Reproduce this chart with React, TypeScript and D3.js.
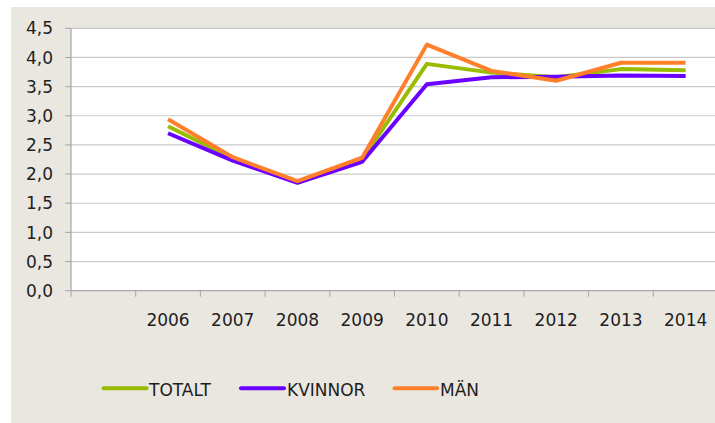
import React from "react";
import * as d3 from "d3";

const categories = ["", "2006", "2007", "2008", "2009", "2010", "2011", "2012", "2013", "2014"];
const years = ["2006", "2007", "2008", "2009", "2010", "2011", "2012", "2013", "2014"];
const totalt = [2.82, 2.27, 1.86, 2.25, 3.89, 3.74, 3.66, 3.8, 3.78];
const kvinnor = [2.7, 2.23, 1.85, 2.21, 3.54, 3.66, 3.67, 3.69, 3.68];
const man = [2.94, 2.29, 1.88, 2.28, 4.22, 3.77, 3.6, 3.91, 3.91];
const yTicks = [0, 0.5, 1, 1.5, 2, 2.5, 3, 3.5, 4, 4.5];
const seriesNames = ["TOTALT", "KVINNOR", "MÄN"];
const seriesColors = ["#99bb00", "#6a00ff", "#ff7f2a"];

export default function App() {
  const W = 715;
  const H = 423;
  const left = 71;
  const top = 28.3;
  const bottom = 290.7;
  const band = 64.7;
  const x = d3.scaleBand<string>().domain(categories).range([left, left + band * categories.length]).padding(0);
  const y = d3.scaleLinear().domain([0, 4.5]).range([bottom, top]);
  const cx = (c: string) => (x(c) as number) + x.bandwidth() / 2;
  const line = d3
    .line<number>()
    .x((_, i) => cx(years[i]))
    .y((d) => y(d));
  const series = [totalt, kvinnor, man];
  const font = "'DejaVu Sans', sans-serif";
  const fs = 17;
  const legend = [
    { x1: 103.5, x2: 146.5, tx: 149 },
    { x1: 241, x2: 284, tx: 287 },
    { x1: 394.5, x2: 437, tx: 440 },
  ];
  return (
    <svg width={W} height={H} style={{ position: "absolute", left: 0, top: 0 }} fontFamily={font}>
      <rect x={0} y={0} width={W} height={H} fill="#ffffff" />
      <rect x={11} y={7} width={W - 11} height={H - 7} fill="#eae7e1" />
      <rect x={left} y={top} width={W - left} height={bottom - top} fill="#ffffff" />
      {yTicks.map((t) => (
        <g key={t}>
          {t > 0 && <line x1={left} x2={W} y1={y(t)} y2={y(t)} stroke="#c9c9c9" strokeWidth={1.2} />}
          <line x1={left - 6} x2={left} y1={y(t)} y2={y(t)} stroke="#a6a6a6" strokeWidth={1} />
          <text x={53} y={y(t)} dy="0.36em" textAnchor="end" fontSize={fs} fill="#1e1e1e">
            {d3.format(".1f")(t).replace(".", ",")}
          </text>
        </g>
      ))}
      <line x1={left} x2={left} y1={top} y2={bottom} stroke="#a6a6a6" strokeWidth={1.2} />
      <line x1={left} x2={W} y1={bottom} y2={bottom} stroke="#a6a6a6" strokeWidth={1.2} />
      {categories.map((c) => (
        <g key={"t" + c}>
          <line x1={x(c) as number} x2={x(c) as number} y1={bottom} y2={bottom + 6} stroke="#a6a6a6" strokeWidth={1} />
          {c && (
            <text x={cx(c)} y={326} textAnchor="middle" fontSize={fs} fill="#1e1e1e">
              {c}
            </text>
          )}
        </g>
      ))}
      {series.map((s, i) => (
        <path key={i} d={line(s) as string} fill="none" stroke={seriesColors[i]} strokeWidth={4} strokeLinejoin="round" />
      ))}
      {seriesNames.map((n, i) => (
        <g key={n}>
          <line x1={legend[i].x1} x2={legend[i].x2} y1={388.3} y2={388.3} stroke={seriesColors[i]} strokeWidth={4} strokeLinecap="round" />
          <text x={legend[i].tx} y={395.5} fontSize={fs} fill="#1e1e1e">
            {n}
          </text>
        </g>
      ))}
    </svg>
  );
}
